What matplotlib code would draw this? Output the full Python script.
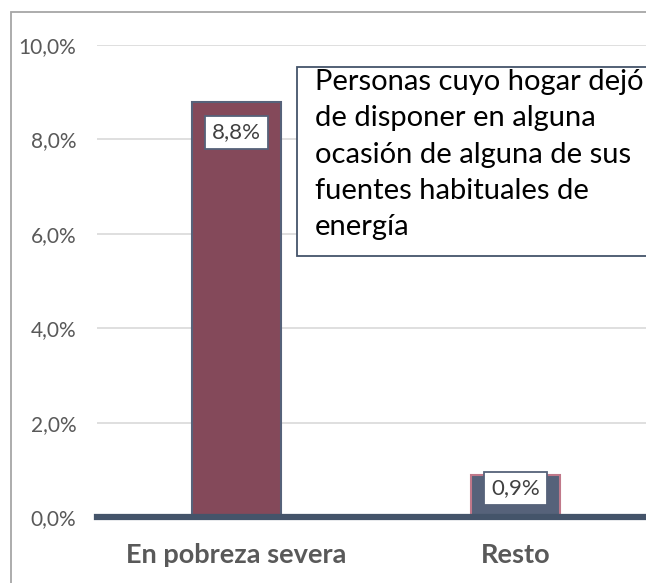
import matplotlib
matplotlib.use("Agg")
import matplotlib.pyplot as plt
from matplotlib.patches import Rectangle
from matplotlib.ticker import FuncFormatter

categories = ["En pobreza severa", "Resto"]
values = [8.8, 0.9]
value_labels = ["8,8%", "0,9%"]
yticks = [0, 2, 4, 6, 8, 10]
note = "Personas cuyo hogar dejó\nde disponer en alguna\nocasión de alguna de sus\nfuentes habituales de\nenergía"

plt.rcParams['font.family'] = ['Lato', 'DejaVu Sans']

W, H = 646, 583
fig = plt.figure(figsize=(W/100, H/100), dpi=100)

# outer frame
fig.patches.append(Rectangle((11/W, -0.1), 2.0, (583-12)/H + 0.1, transform=fig.transFigure,
                             fill=False, edgecolor="#a6a6a6", linewidth=1.3))

left, right = 97, 655
bottom, top = 517, 45
ax = fig.add_axes([left/W, (H-bottom)/H, (right-left)/W, (bottom-top)/H])
ax.set_xlim(-0.5, 1.5)
ax.set_ylim(0, 10)

fills = ["#84495a", "#56627a"]
edges = ["#56627a", "#c0788a"]
xs = list(range(len(categories)))
ax.bar(xs, values, width=0.32, color=fills, edgecolor=edges, linewidth=1.5, zorder=3)

label_offsets = [-0.65, -0.29]
for x, v, lab, off in zip(xs, values, value_labels, label_offsets):
    ax.text(x, v + off, lab, ha="center", va="center", fontsize=16, color="#404040",
            bbox=dict(boxstyle="square,pad=0.3", facecolor="white", edgecolor="#56627a", linewidth=1.3),
            zorder=5)

ax.set_yticks(yticks)
ax.yaxis.set_major_formatter(FuncFormatter(lambda v, p: f"{v:.1f}".replace(".", ",") + "%"))
ax.grid(axis="y", color="#d9d9d9", linewidth=1.2, zorder=0)
ax.set_xticks(xs)
ax.set_xticklabels(categories, fontsize=19.5, fontweight="bold", color="#595959")
ax.tick_params(axis="x", length=0, pad=19)
ax.tick_params(axis="y", length=0, labelsize=15, labelcolor="#595959", pad=15)
for s in ["top", "right", "left"]:
    ax.spines[s].set_visible(False)
ax.spines["bottom"].set_color("#44546a")
ax.spines["bottom"].set_linewidth(4.5)
ax.spines["bottom"].set_zorder(4)

# note box
bx0, by0 = 297/W, (H-256)/H
fig.patches.append(Rectangle((bx0, by0), 1.0, (256-67)/H, transform=fig.transFigure,
                             facecolor="white", edgecolor="#44546a", linewidth=1.3, zorder=6))
fig.text(315/W, (H-69)/H, note, ha="left", va="top", fontsize=21, color="black",
         linespacing=1.49, zorder=7)

fig.savefig("out.png", dpi=100)
